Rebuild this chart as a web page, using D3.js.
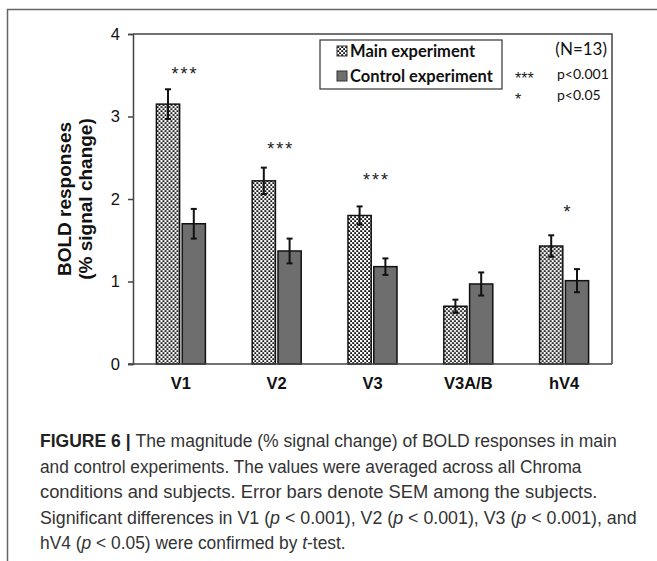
<!DOCTYPE html>
<html>
<head>
<meta charset="utf-8">
<script src="https://cdn.jsdelivr.net/npm/d3@7"></script>
<style>
  body { margin: 0; background: #fff; }
  svg { display: block; }
</style>
</head>
<body>
<script>
//chart data
var regions = ["V1", "V2", "V3", "V3A/B", "hV4"];
var mainValues = [3.15, 2.22, 1.80, 0.70, 1.43];
var mainErrors = [0.18, 0.16, 0.11, 0.08, 0.13];
var controlValues = [1.70, 1.37, 1.18, 0.97, 1.01];
var controlErrors = [0.18, 0.15, 0.10, 0.14, 0.14];
var sigMarks = ["***", "***", "***", "", "*"];
var sigHeights = [3.55, 2.64, 2.27, 0, 1.88]; //where the stars sit, in data units
var yTicks = [0, 1, 2, 3, 4];

var width = 657, height = 561;
var margin = {left: 133, right: 45, top: 34, bottom: 197};
var innerW = width - margin.left - margin.right,
    innerH = height - margin.top - margin.bottom;

var svg = d3.select("body").append("svg")
  .attr("width", width)
  .attr("height", height);

//dotted fill of the main experiment bars
var defs = svg.append("defs");
var pat = defs.append("pattern")
  .attr("id", "dots")
  .attr("patternUnits", "userSpaceOnUse")
  .attr("width", 4)
  .attr("height", 4);
pat.append("rect").attr("width", 4).attr("height", 4).attr("fill", "#fff");
pat.append("rect").attr("x", 0.2).attr("y", 0.2).attr("width", 2).attr("height", 1.8).attr("fill", "#111");
pat.append("rect").attr("x", 2.2).attr("y", 2.2).attr("width", 1.8).attr("height", 2).attr("fill", "#111");

//outer figure frame (open on the right and bottom)
svg.append("path")
  .attr("d", "M7.5," + height + "V9.5H" + width)
  .attr("fill", "none")
  .attr("stroke", "#666")
  .attr("stroke-width", 1.5);

var g = svg.append("g").attr("transform", "translate(" + margin.left + "," + margin.top + ")");

var x0 = d3.scaleBand().domain(regions).range([0, innerW]);
var x1 = d3.scaleBand().domain(["main", "control"]).range([0, 49]).paddingInner(0.1);
var y = d3.scaleLinear().domain([0, 4]).range([innerH, 0]);

//plot box, top and right sides
g.append("path")
  .attr("d", "M0,0H" + innerW + "V" + innerH)
  .attr("fill", "none")
  .attr("stroke", "#444")
  .attr("stroke-width", 1.5);

var groups = g.selectAll(".grp")
  .data(regions)
  .enter()
  .append("g")
  .attr("class", "grp")
  .attr("transform", function(d){
    return "translate(" + (x0(d) + x0.bandwidth() / 2 - 24.5) + ",0)";
  });

function series(i){
  return [
    {key: "main", v: mainValues[i], e: mainErrors[i]},
    {key: "control", v: controlValues[i], e: controlErrors[i]}
  ];
}

groups.selectAll(".bar")
  .data(function(d, i){ return series(i); })
  .enter()
  .append("rect")
  .attr("class", "bar")
  .attr("x", function(d){ return x1(d.key); })
  .attr("width", x1.bandwidth())
  .attr("y", function(d){ return y(d.v); })
  .attr("height", function(d){ return y(0) - y(d.v); })
  .attr("fill", function(d){ return d.key == "main" ? "url(#dots)" : "#6e6e6e"; })
  .attr("stroke", "#111")
  .attr("stroke-width", 1.5);

//error bars
var err = groups.selectAll(".err")
  .data(function(d, i){ return series(i); })
  .enter()
  .append("g")
  .attr("class", "err")
  .attr("stroke", "#111")
  .attr("stroke-width", 2);
err.append("line")
  .attr("x1", function(d){ return x1(d.key) + x1.bandwidth() / 2; })
  .attr("x2", function(d){ return x1(d.key) + x1.bandwidth() / 2; })
  .attr("y1", function(d){ return y(d.v + d.e); })
  .attr("y2", function(d){ return y(d.v - d.e); });
[1, -1].forEach(function(s){
  err.append("line")
    .attr("x1", function(d){ return x1(d.key) + x1.bandwidth() / 2 - 3; })
    .attr("x2", function(d){ return x1(d.key) + x1.bandwidth() / 2 + 3; })
    .attr("y1", function(d){ return y(d.v + s * d.e); })
    .attr("y2", function(d){ return y(d.v + s * d.e); });
});

//significance stars
g.selectAll(".sig")
  .data(regions)
  .enter()
  .append("text")
  .attr("class", "sig")
  .attr("x", function(d){ return x0(d) + x0.bandwidth() / 2 + 4; })
  .attr("y", function(d, i){ return y(sigHeights[i]) + 9; })
  .attr("text-anchor", "middle")
  .style("font-family", "'Liberation Sans', Arial, sans-serif")
  .style("font-size", "18px")
  .style("letter-spacing", "2px")
  .style("fill", "#222")
  .text(function(d, i){ return sigMarks[i]; });

//axes
var yAxis = d3.axisLeft(y).tickValues(yTicks).tickSize(5).tickPadding(8).tickFormat(d3.format("d"));
var ya = g.append("g").call(yAxis);
var xAxis = d3.axisBottom(x0).tickSize(0).tickPadding(13);
var xa = g.append("g").attr("transform", "translate(0," + innerH + ")").call(xAxis);
xa.select(".domain").attr("d", "M-5,0H" + innerW);
[ya, xa].forEach(function(a){
  a.select(".domain").attr("stroke", "#444").attr("stroke-width", 1.5);
  a.selectAll(".tick line").attr("stroke", "#444").attr("stroke-width", 1.5);
  a.selectAll("text")
    .style("font-family", "'Liberation Sans', Arial, sans-serif")
    .style("fill", "#111");
});
ya.selectAll("text").style("font-size", "16.5px");
xa.selectAll("text").style("font-size", "16.5px").style("font-weight", "bold");

//y axis title
var yt = svg.append("text")
  .attr("transform", "translate(71," + (margin.top + innerH / 2) + ") rotate(-90)")
  .attr("text-anchor", "middle")
  .style("font-family", "'Liberation Sans', Arial, sans-serif")
  .style("font-size", "19px")
  .style("font-weight", "bold")
  .style("fill", "#111");
yt.append("tspan").attr("x", 0).attr("y", 0).text("BOLD responses");
yt.append("tspan").attr("x", 0).attr("y", 21).text("(% signal change)");

//legend
var legend = svg.append("g").attr("transform", "translate(320,40)");
legend.append("rect")
  .attr("width", 182).attr("height", 49)
  .attr("fill", "#fff").attr("stroke", "#333").attr("stroke-width", 1.2);
var legItems = [
  {label: "Main experiment", fill: "url(#dots)"},
  {label: "Control experiment", fill: "#6e6e6e"}
];
var li = legend.selectAll(".li")
  .data(legItems)
  .enter()
  .append("g")
  .attr("transform", function(d, i){ return "translate(17," + (6 + i * 25) + ")"; });
li.append("rect")
  .attr("width", 10).attr("height", 10)
  .attr("fill", function(d){ return d.fill; })
  .attr("stroke", "#333").attr("stroke-width", 1);
li.append("text")
  .attr("x", 13).attr("y", 11)
  .style("font-family", "Lato, 'Open Sans', sans-serif")
  .style("font-size", "16.5px")
  .style("font-weight", "bold")
  .style("fill", "#111")
  .text(function(d){ return d.label; });

//N and significance key
var keyFont = "Lato, 'Open Sans', sans-serif";
svg.append("text").attr("x", 607).attr("y", 55).attr("text-anchor", "end")
  .style("font-family", keyFont).style("font-size", "17px").style("fill", "#111").text("(N=13)");
svg.append("text").attr("x", 515).attr("y", 84)
  .style("font-family", "'Liberation Sans', Arial, sans-serif").style("font-size", "16px").style("fill", "#222").text("***");
svg.append("text").attr("x", 515).attr("y", 105)
  .style("font-family", "'Liberation Sans', Arial, sans-serif").style("font-size", "16px").style("fill", "#222").text("*");
svg.append("text").attr("x", 557).attr("y", 79)
  .style("font-family", keyFont).style("font-size", "14px").style("fill", "#111").text("p<0.001");
svg.append("text").attr("x", 557).attr("y", 100)
  .style("font-family", keyFont).style("font-size", "14px").style("fill", "#111").text("p<0.05");

//caption, one entry per line: [text, style] pieces and the line's right end
var captionLines = [
  {end: 617, parts: [["FIGURE 6 | ", "b"], ["The magnitude (% signal change) of BOLD responses in main", ""]]},
  {end: 582, parts: [["and control experiments. The values were averaged across all Chroma", ""]]},
  {end: 598, parts: [["conditions and subjects. Error bars denote SEM among the subjects.", ""]]},
  {end: 637, parts: [["Significant differences in V1 (", ""], ["p", "i"], [" < 0.001), V2 (", ""], ["p", "i"], [" < 0.001), V3 (", ""], ["p", "i"], [" < 0.001), and", ""]]},
  {end: 346, parts: [["hV4 (", ""], ["p", "i"], [" < 0.05) were confirmed by ", ""], ["t", "i"], ["-test.", ""]]}
];
var cap = svg.append("g")
  .style("font-family", "'Liberation Sans Narrow', 'Liberation Sans', Arial, sans-serif")
  .style("font-size", "18.5px")
  .style("fill", "#333");
captionLines.forEach(function(line, i){
  var lg = cap.append("g");
  var t = lg.append("text").attr("x", 0).attr("y", 0);
  line.parts.forEach(function(p){
    var ts = t.append("tspan").text(p[0]);
    if (p[1] == "b") ts.style("font-weight", "bold").style("fill", "#222");
    if (p[1] == "i") ts.style("font-style", "italic");
  });
  //squeeze the line horizontally to the condensed width of the original
  var sx = (line.end - 40) / t.node().getComputedTextLength();
  lg.attr("transform", "translate(40," + (447 + i * 25.5) + ") scale(" + sx + ",1)");
});
</script>
</body>
</html>
